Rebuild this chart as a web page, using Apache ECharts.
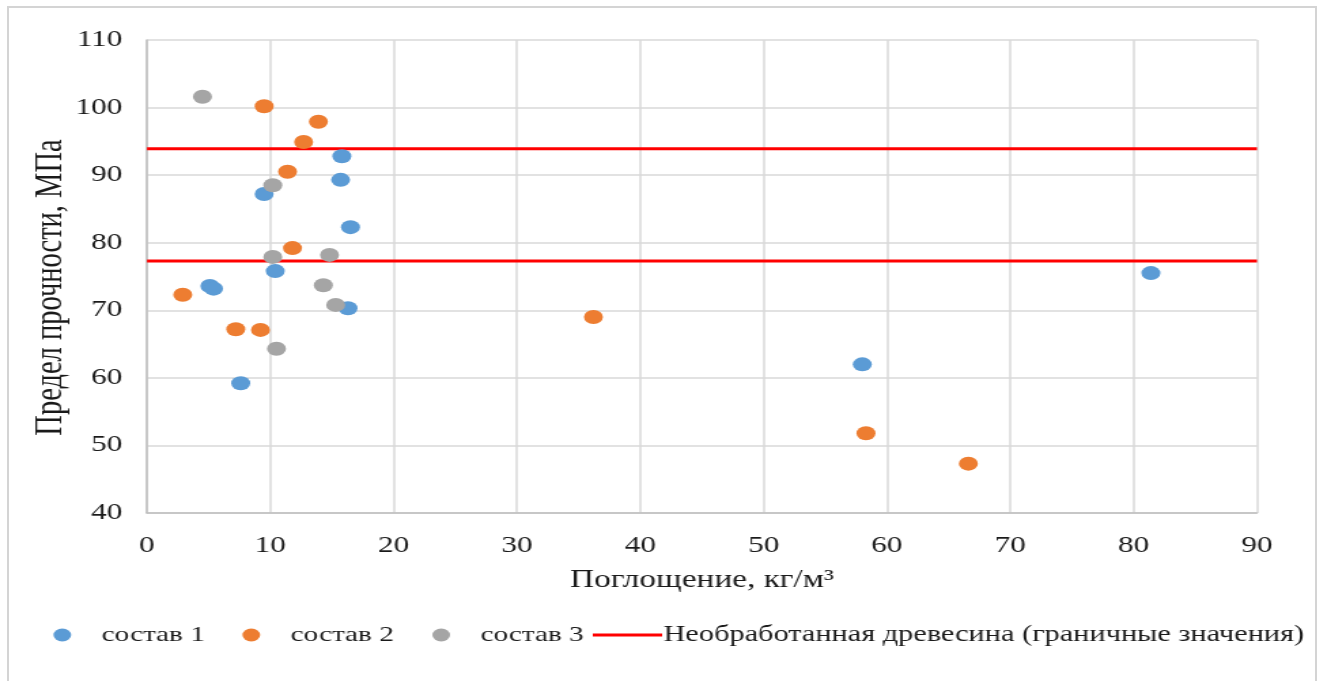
<!DOCTYPE html>
<html>
<head>
<meta charset="utf-8">
<script src="https://cdn.jsdelivr.net/npm/echarts@6/dist/echarts.min.js"></script>
<style>
  html, body { margin: 0; padding: 0; background: #fff; overflow: hidden; }
  #frame { position: absolute; left: 7px; top: 6px; width: 1310px; height: 700px;
           border: 2px solid #d4d4d4; border-bottom: none; box-sizing: border-box; }
  /* the chart is laid out narrow and widened horizontally */
  #chart { position: absolute; left: 0; top: 0; width: 976px; height: 681px;
           transform: scaleX(1.3596); transform-origin: 0 0; }
</style>
</head>
<body>
<div id="frame"></div>
<div id="chart"></div>
<script>
// Поглощение (кг/м³) и предел прочности (МПа) по составам
const sostav1X = [9.5, 15.8, 15.7, 16.5, 10.4, 5.1, 5.4, 16.3, 7.6, 58.0, 81.4];
const sostav1Y = [87.2, 92.8, 89.3, 82.3, 75.8, 73.6, 73.2, 70.3, 59.2, 62.0, 75.5];

const sostav2X = [9.5, 13.9, 12.7, 11.4, 11.8, 2.9, 7.2, 9.2, 36.2, 58.3, 66.6];
const sostav2Y = [100.2, 97.9, 94.9, 90.5, 79.2, 72.3, 67.2, 67.1, 69.0, 51.8, 47.3];

const sostav3X = [4.5, 10.2, 10.2, 14.8, 14.3, 15.3, 10.5];
const sostav3Y = [101.6, 88.5, 77.9, 78.2, 73.7, 70.8, 64.3];

// Необработанная древесина: верхняя и нижняя граница
const boundaryValues = [93.9, 77.3];
const xRange = [0, 90];

const seriesNames = ['состав 1', 'состав 2', 'состав 3', 'Необработанная древесина (граничные значения)'];

const pairs = (xs, ys) => xs.map((x, i) => [x, ys[i]]);

const FONT = 'Liberation Serif';
const TEXT = '#1a1a1a';

const chart = echarts.init(document.getElementById('chart'), null, { renderer: 'canvas' });

const scatter = (name, xs, ys, color) => ({
  name, type: 'scatter', data: pairs(xs, ys),
  symbol: 'circle', symbolSize: 14,
  itemStyle: { color, opacity: 1 },
  z: 3
});

const boundary = v => ({
  name: seriesNames[3], type: 'line',
  data: xRange.map(x => [x, v]),
  symbol: 'none', showSymbol: false,
  lineStyle: { color: '#ff0000', width: 3 },
  itemStyle: { color: '#ff0000' },
  z: 2
});

const legendText = { fontFamily: FONT, fontSize: 21.5, color: TEXT };

const dotLegend = (name, left) => ({
  data: [{ name, icon: 'circle' }], left, top: 619,
  itemWidth: 48, itemHeight: 13, itemGap: 0,
  textStyle: legendText
});

const lineLegend = (name, left) => ({
  data: [{ name, icon: 'path://M0,0 L51,0 L51,3 L0,3 Z' }], left, top: 619,
  itemWidth: 51, itemHeight: 13, itemGap: 0,
  textStyle: Object.assign({}, legendText, { fontSize: 22.3, padding: [0, 0, 0, -4] })
});

chart.setOption({
  animation: false,
  color: ['#5b9bd5', '#ed7d31', '#a5a5a5', '#ff0000'],
  grid: { left: 108.1, right: 51.5, top: 40, bottom: 168 },
  xAxis: {
    type: 'value', min: 0, max: 90, interval: 10,
    name: 'Поглощение, кг/м³', nameLocation: 'middle', nameGap: 55,
    nameMoveOverlap: false,
    nameTextStyle: { fontFamily: FONT, fontSize: 24.5, color: TEXT },
    axisLine: { show: true, lineStyle: { color: '#bfbfbf', width: 1.5 } },
    axisTick: { show: false },
    splitLine: { show: true, lineStyle: { color: '#d9d9d9', width: 1.5 } },
    axisLabel: { fontFamily: FONT, fontSize: 23, color: TEXT, margin: 21 }
  },
  yAxis: {
    type: 'value', min: 40, max: 110, interval: 10,
    name: 'Предел прочности, МПа', nameLocation: 'middle', nameGap: 56,
    nameMoveOverlap: false,
    nameTextStyle: { fontFamily: FONT, fontSize: 28.5, color: TEXT, padding: [0, 22, 0, 0] },
    axisLine: { show: true, lineStyle: { color: '#bfbfbf', width: 1.5 } },
    axisTick: { show: false },
    splitLine: { show: true, lineStyle: { color: '#d9d9d9', width: 1.5 } },
    axisLabel: { fontFamily: FONT, fontSize: 23, color: TEXT, margin: 18 }
  },
  legend: [
    dotLegend(seriesNames[0], 34.3),
    dotLegend(seriesNames[1], 173.3),
    dotLegend(seriesNames[2], 313),
    lineLegend(seriesNames[3], 431)
  ],
  series: [
    boundary(boundaryValues[0]),
    boundary(boundaryValues[1]),
    scatter(seriesNames[0], sostav1X, sostav1Y, '#5b9bd5'),
    scatter(seriesNames[1], sostav2X, sostav2Y, '#ed7d31'),
    scatter(seriesNames[2], sostav3X, sostav3Y, '#a5a5a5')
  ]
});
</script>
</body>
</html>
